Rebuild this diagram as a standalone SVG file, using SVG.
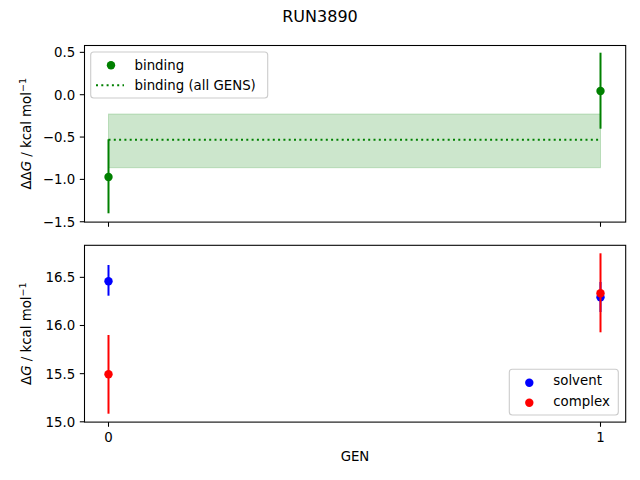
<svg xmlns="http://www.w3.org/2000/svg" width="640" height="480" viewBox="0 0 640 480">
<style>
text{font-family:"DejaVu Sans","Liberation Sans",sans-serif;font-size:13.33px;fill:#000}
.title{font-size:16px}
.tl{text-anchor:end}
.tc{text-anchor:middle}
.spine{fill:none;stroke:#000;stroke-width:1.07}
.tick{stroke:#000;stroke-width:1.07}
.leg{fill:#fff;fill-opacity:0.8;stroke:#cccccc;stroke-width:1.1}
.g{fill:#008000}.b{fill:#0000ff}.r{fill:#ff0000}
.eg{stroke:#008000;stroke-width:2}.eb{stroke:#0000ff;stroke-width:2}.er{stroke:#ff0000;stroke-width:2}
.dot{stroke:#008000;stroke-width:2;stroke-dasharray:2 3.3;fill:none}
.sup{font-size:9.5px}
</style>
<rect width="640" height="480" fill="#fff"/>
<text class="title tc" x="320" y="21.7">RUN3890</text>

<g id="top-axes">
  <rect x="108.5" y="114" width="492" height="53.7" fill="#008000" fill-opacity="0.2" stroke="#008000" stroke-opacity="0.2" stroke-width="1"/>
  <line class="dot" x1="108.5" y1="139.7" x2="600.5" y2="139.7"/>
  <line class="eg" x1="108.5" y1="139.3" x2="108.5" y2="213.3"/>
  <circle class="g" cx="108.5" cy="177" r="4.2"/>
  <line class="eg" x1="600.5" y1="52.7" x2="600.5" y2="128.7"/>
  <circle class="g" cx="600.5" cy="91" r="4.2"/>
  <rect class="spine" x="84.5" y="45.5" width="541.2" height="176.6"/>
  <g class="tick">
    <line x1="79.8" y1="52.35" x2="84.5" y2="52.35"/>
    <line x1="79.8" y1="94.7" x2="84.5" y2="94.7"/>
    <line x1="79.8" y1="137.05" x2="84.5" y2="137.05"/>
    <line x1="79.8" y1="179.4" x2="84.5" y2="179.4"/>
    <line x1="79.8" y1="221.75" x2="84.5" y2="221.75"/>
    <line x1="108.5" y1="222.1" x2="108.5" y2="226.8"/>
    <line x1="600.5" y1="222.1" x2="600.5" y2="226.8"/>
  </g>
  <text class="tl" x="75.2" y="57.2">0.5</text>
  <text class="tl" x="75.2" y="99.5">0.0</text>
  <text class="tl" x="75.2" y="141.9">−0.5</text>
  <text class="tl" x="75.2" y="184.2">−1.0</text>
  <text class="tl" x="75.2" y="226.6">−1.5</text>
  <text class="tc" transform="translate(30.8,133.8) rotate(-90)">ΔΔ<tspan font-style="italic">G</tspan> / kcal mol<tspan class="sup" dy="-5">−1</tspan></text>
</g>

<g id="top-legend">
  <rect class="leg" x="90.7" y="52" width="177" height="46" rx="3"/>
  <circle class="g" cx="111" cy="65.3" r="4.2"/>
  <text x="134.5" y="70">binding</text>
  <line class="dot" x1="96" y1="85.3" x2="124" y2="85.3"/>
  <text x="134.5" y="90.3">binding (all GENS)</text>
</g>

<g id="bottom-axes">
  <line class="eb" x1="108.5" y1="265" x2="108.5" y2="295.7"/>
  <circle class="b" cx="108.5" cy="281.3" r="4.2"/>
  <line class="eb" x1="600.5" y1="282" x2="600.5" y2="312"/>
  <circle class="b" cx="600.5" cy="297.3" r="4.2"/>
  <line class="er" x1="108.5" y1="335" x2="108.5" y2="413.7"/>
  <circle class="r" cx="108.5" cy="374.3" r="4.2"/>
  <line class="er" x1="600.5" y1="253.3" x2="600.5" y2="332.3"/>
  <circle class="r" cx="600.5" cy="293.3" r="4.2"/>
  <rect class="spine" x="84.5" y="245.3" width="541.2" height="176.8"/>
  <g class="tick">
    <line x1="79.8" y1="277.35" x2="84.5" y2="277.35"/>
    <line x1="79.8" y1="325.5" x2="84.5" y2="325.5"/>
    <line x1="79.8" y1="373.65" x2="84.5" y2="373.65"/>
    <line x1="79.8" y1="421.8" x2="84.5" y2="421.8"/>
    <line x1="108.5" y1="422.1" x2="108.5" y2="426.8"/>
    <line x1="600.5" y1="422.1" x2="600.5" y2="426.8"/>
  </g>
  <text class="tl" x="75.2" y="282.2">16.5</text>
  <text class="tl" x="75.2" y="330.3">16.0</text>
  <text class="tl" x="75.2" y="378.5">15.5</text>
  <text class="tl" x="75.2" y="426.6">15.0</text>
  <text class="tc" x="108.5" y="441.5">0</text>
  <text class="tc" x="600.5" y="441.5">1</text>
  <text class="tc" x="355" y="460.5">GEN</text>
  <text class="tc" transform="translate(30.8,333.7) rotate(-90)">Δ<tspan font-style="italic">G</tspan> / kcal mol<tspan class="sup" dy="-5">−1</tspan></text>
</g>

<g id="bottom-legend">
  <rect class="leg" x="509.3" y="369.3" width="109" height="45.7" rx="3"/>
  <circle class="b" cx="529.3" cy="382.7" r="4.2"/>
  <text x="553.3" y="385.3">solvent</text>
  <circle class="r" cx="529.3" cy="402.7" r="4.2"/>
  <text x="553.3" y="406">complex</text>
</g>
</svg>
